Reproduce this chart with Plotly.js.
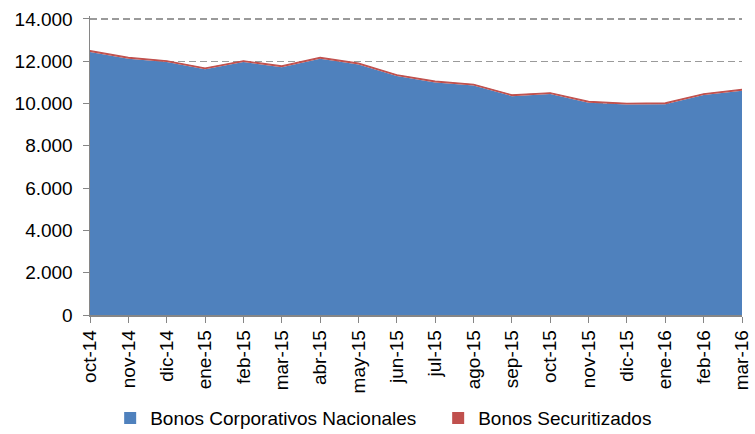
<!DOCTYPE html>
<html>
<head>
<meta charset="utf-8">
<script src="https://cdn.plot.ly/plotly-3.0.1.min.js"></script>
<style>html,body{margin:0;padding:0;background:#fff;}#chart{width:755px;height:434px;}</style>
</head>
<body>
<div id="chart"></div>
<script>
const months = ["oct-14","nov-14","dic-14","ene-15","feb-15","mar-15","abr-15","may-15","jun-15","jul-15","ago-15","sep-15","oct-15","nov-15","dic-15","ene-16","feb-16","mar-16"];
const corporativos = [12440,12120,11960,11620,11960,11720,12120,11850,11300,11000,10850,10350,10450,10040,9950,9970,10400,10610];
const securitizados = [60,60,60,60,60,60,60,60,60,60,60,60,60,60,60,60,60,60];
const yTicks = [0,2000,4000,6000,8000,10000,12000,14000];
const seriesNames = ["Bonos Corporativos Nacionales","Bonos Securitizados"];
const seriesColors = ["#4F81BD","#C0504D"];

const font = "Liberation Sans, Arial, sans-serif";
const traces = [
  {x: months, y: corporativos, name: seriesNames[0], type: "scatter", mode: "lines", showlegend: false,
   stackgroup: "one", fillcolor: seriesColors[0], line: {color: seriesColors[0], width: 0}},
  {x: months, y: securitizados, name: seriesNames[1], type: "scatter", mode: "lines", showlegend: false,
   stackgroup: "one", fillcolor: seriesColors[1], line: {color: seriesColors[1], width: 1.2}},
  {x: [null], y: [null], name: seriesNames[0], type: "bar", marker: {color: seriesColors[0]}, showlegend: true},
  {x: [null], y: [null], name: seriesNames[1], type: "bar", marker: {color: seriesColors[1]}, showlegend: true}
];
const layout = {
  width: 755, height: 434,
  margin: {l: 90, r: 13, t: 16, b: 119, autoexpand: false},
  paper_bgcolor: "#fff", plot_bgcolor: "#fff",
  separators: ",.",
  font: {family: font, size: 19, color: "#000"},
  showlegend: true,
  legend: {orientation: "h", x: 0.534, xanchor: "center", y: -0.345, yanchor: "middle",
           font: {family: font, size: 19, color: "#000"}, itemwidth: 30, tracegroupgap: 0,
           entrywidth: 283, entrywidthmode: "pixels",
           traceorder: "normal", bgcolor: "rgba(0,0,0,0)"},
  xaxis: {type: "category", range: [0, 17], tickangle: -90, showline: true, linecolor: "#868686", linewidth: 1.5,
          ticks: "outside", ticklen: 6, tickcolor: "#868686", showgrid: false, zeroline: false,
          tickfont: {family: font, size: 19, color: "#000"}},
  yaxis: {range: [0, 14140], tickvals: yTicks, tickformat: ",d", showline: true, linecolor: "#868686", linewidth: 1.5,
          ticks: "outside", ticklen: 6, tickcolor: "#868686", showgrid: true, gridcolor: "#9A9A9A", griddash: "7px,4px",
          gridwidth: 1.3, zeroline: false, ticklabelstandoff: 6, tickfont: {family: font, size: 19, color: "#000"}}
};
Plotly.newPlot("chart", traces, layout, {displayModeBar: false, staticPlot: true});
</script>
</body>
</html>
